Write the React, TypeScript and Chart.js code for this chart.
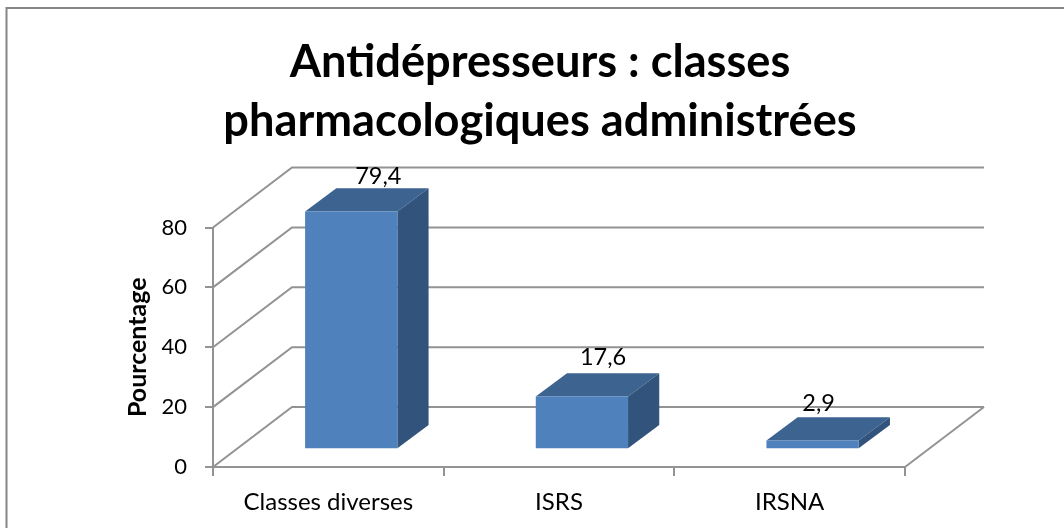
import React, { useEffect, useRef } from "react";
import { Chart, registerables } from "chart.js";

Chart.register(...registerables);

const titleLines = ["Antidépresseurs : classes", "pharmacologiques administrées"];
const categories = ["Classes diverses", "ISRS", "IRSNA"];
const values = [79.4, 17.6, 2.9];
const valueLabels = ["79,4", "17,6", "2,9"];
const labelOffsetX = [50, 44, 29];
const labelOffsetY = [-53, -57, -55];
const yAxisTitle = "Pourcentage";

const FONT = "Lato, Carlito, Calibri, sans-serif";
const GRID = "#939393";
const DEPTH_X = 79;
const DEPTH_Y = 60;
const TITLE_SHIFT = 26;

const scene3d = {
  id: "scene3d",
  afterLayout(chart: any) {
    const t = chart.titleBlock;
    if (t) {
      t.left += TITLE_SHIFT;
      t.right += TITLE_SHIFT;
    }
  },
  beforeDraw(chart: any) {
    const { ctx, width, height } = chart;
    ctx.save();
    ctx.strokeStyle = "#868686";
    ctx.lineWidth = 2;
    ctx.beginPath();
    ctx.moveTo(6.5, height);
    ctx.lineTo(6.5, 8);
    ctx.lineTo(width, 8);
    ctx.stroke();
    ctx.restore();
  },
  beforeDatasetsDraw(chart: any) {
    const { ctx, scales, chartArea } = chart;
    const y = scales.y;
    ctx.save();
    ctx.strokeStyle = GRID;
    ctx.lineWidth = 2;
    y.ticks.forEach((t: any) => {
      const py = y.getPixelForValue(t.value);
      ctx.beginPath();
      ctx.moveTo(chartArea.left, py);
      ctx.lineTo(chartArea.left + DEPTH_X, py - DEPTH_Y);
      ctx.lineTo(chartArea.right + DEPTH_X, py - DEPTH_Y);
      ctx.stroke();
    });
    ctx.beginPath();
    ctx.moveTo(chartArea.right, chartArea.bottom);
    ctx.lineTo(chartArea.right + DEPTH_X, chartArea.bottom - DEPTH_Y);
    ctx.stroke();
    // box sides of each bar, from the bar element's own geometry
    const dx = DEPTH_X * 0.29;
    const dy = DEPTH_Y * 0.295;
    const bx = DEPTH_X * 0.395;
    const by = DEPTH_Y * 0.39;
    chart.getDatasetMeta(0).data.forEach((bar: any) => {
      const l = bar.x - bar.width / 2 + dx;
      const r = bar.x + bar.width / 2 + dx;
      const t = bar.y - dy;
      const b = bar.base - dy;
      ctx.fillStyle = "#3d6390";
      ctx.beginPath();
      ctx.moveTo(l, t);
      ctx.lineTo(l + bx, t - by);
      ctx.lineTo(r + bx, t - by);
      ctx.lineTo(r, t);
      ctx.closePath();
      ctx.fill();
      ctx.fillStyle = "#32547c";
      ctx.beginPath();
      ctx.moveTo(r, t);
      ctx.lineTo(r + bx, t - by);
      ctx.lineTo(r + bx, b - by);
      ctx.lineTo(r, b);
      ctx.closePath();
      ctx.fill();
    });
    ctx.restore();
    ctx.save();
    ctx.translate(dx, -dy);
  },
  afterDatasetsDraw(chart: any) {
    const { ctx } = chart;
    ctx.restore();
    ctx.save();
    ctx.fillStyle = "#000";
    ctx.font = `23.5px ${FONT}`;
    ctx.textAlign = "center";
    ctx.textBaseline = "middle";
    chart.getDatasetMeta(0).data.forEach((bar: any, i: number) => {
      ctx.fillText(valueLabels[i], bar.x + labelOffsetX[i], bar.y + labelOffsetY[i]);
    });
    ctx.restore();
  },
};

export default function App() {
  const ref = useRef<HTMLCanvasElement>(null);
  useEffect(() => {
    const chart = new Chart(ref.current!, {
      type: "bar",
      data: {
        labels: categories,
        datasets: [
          {
            data: values,
            backgroundColor: "#4f81bd",
            borderWidth: 0,
            categoryPercentage: 1,
            barPercentage: 0.4,
          },
        ],
      },
      plugins: [scene3d],
      options: {
        responsive: false,
        animation: false,
        layout: { padding: { left: 123, right: 159, top: 0, bottom: 0 } },
        plugins: {
          legend: { display: false },
          tooltip: { enabled: false },
          title: {
            display: true,
            text: titleLines,
            color: "#000",
            font: { family: FONT, size: 45.2, weight: "bold", lineHeight: 1.311 },
            padding: { top: 33, bottom: 76 },
          },
        },
        scales: {
          x: {
            grid: { drawOnChartArea: false, color: GRID, tickLength: 9, lineWidth: 2 },
            border: { color: GRID, width: 2 },
            ticks: { color: "#000", font: { family: FONT, size: 24 }, padding: 12, maxRotation: 0 },
            afterFit: (s: any) => { s.height = 61; },
          },
          y: {
            min: 0,
            max: 80,
            grid: { drawOnChartArea: false, color: GRID, tickLength: 8, lineWidth: 2 },
            border: { color: GRID, width: 2 },
            ticks: { stepSize: 20, color: "#000", font: { family: FONT, size: 22 }, padding: 18 },
            title: {
              display: true,
              text: yAxisTitle,
              color: "#000",
              font: { family: FONT, size: 25, weight: "bold" },
              padding: 0,
            },
            afterFit: (s: any) => { s.width = 90; },
          },
        },
      },
    } as any);
    return () => chart.destroy();
  }, []);
  return (
    <div style={{ position: "absolute", left: 0, top: 0, width: 1064, height: 528, background: "#fff" }}>
      <canvas ref={ref} width={1064} height={528} style={{ display: "block" }} />
    </div>
  );
}
